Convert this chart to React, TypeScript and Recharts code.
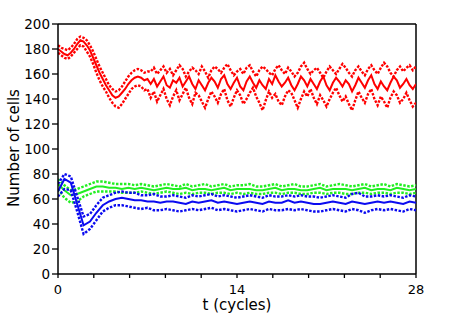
import { LineChart, Line, XAxis, YAxis, ReferenceLine } from 'recharts';

// sampling grids for the series (cycles)
const RED_STEP = 0.25;
const GB_STEP = 0.5;

const redMean = [
  180, 178, 176, 175, 177, 180, 184, 187, 186,
  183, 179, 173, 167, 161, 156, 151, 147, 143, 141,
  142, 145, 148, 152, 155, 157, 158, 157, 155, 156,
  152, 156, 150, 154, 158, 151, 149, 155, 153, 157,
  150, 154, 158, 152, 148, 155, 151, 147, 153, 157,
  154, 149, 156, 159, 152, 148, 153, 157, 150, 147,
  154, 158, 153, 149, 155, 151, 148, 156, 152, 159,
  154, 150, 153, 157, 151, 147, 152, 158, 155, 150,
  156, 152, 148, 154, 158, 151, 147, 153, 157, 154,
  150, 155, 152, 146, 151, 157, 153, 149, 155, 159,
  152, 148, 154, 150, 147, 153, 158, 155, 149, 152,
  156, 151, 148, 152,
];
const redUpper = [
  183, 181, 180, 179, 181, 184, 188, 190, 189,
  187, 183, 178, 172, 166, 161, 156, 151, 148, 146,
  147, 150, 154, 158, 161, 163, 164, 163, 161, 162,
  162, 165, 160, 163, 166, 161, 164, 159, 163, 167,
  164, 158, 162, 165, 163, 160, 166, 162, 157, 163,
  166, 164, 161, 165, 168, 163, 159, 162, 164, 160,
  165, 167, 162, 158, 163, 166, 164, 161, 159, 164,
  167, 163, 160, 165, 162, 158, 161, 166, 169, 164,
  160, 163, 165, 161, 157, 162, 166, 163, 160, 164,
  168, 165, 161, 158, 163, 166, 162, 159, 164, 167,
  163, 160, 165, 169, 166, 161, 158, 163, 166, 162,
  165, 167, 163, 166,
];
const redLower = [
  177, 175, 173, 172, 174, 177, 180, 183, 182,
  178, 174, 168, 161, 155, 150, 146, 141, 137, 134,
  133, 136, 140, 144, 148, 150, 151, 150, 147, 148,
  141, 146, 138, 143, 148, 140, 135, 142, 147, 139,
  144, 149, 141, 136, 145, 143, 138, 133, 140, 146,
  142, 137, 144, 148, 139, 134, 141, 147, 143, 136,
  140, 145, 149, 142, 137, 131, 139, 146, 141, 144,
  138, 135, 142, 147, 145, 139, 133, 140, 146, 142,
  148, 141, 136, 143, 139, 134, 140, 145, 149, 143,
  138, 142, 136, 131, 139, 146, 141, 137, 144, 148,
  140, 135, 142, 138, 133, 141, 146, 143, 137, 140,
  145, 139, 134, 137,
];

const greenMean = [
  72, 67, 63, 64, 66, 68, 70, 70, 69, 69,
  68, 69, 68, 69, 68, 67, 68, 69, 68, 68,
  69, 67, 68, 68, 67, 68, 69, 67, 68, 68,
  68, 67, 67, 68, 69, 67, 68, 68, 67, 67,
  68, 69, 67, 68, 68, 68, 67, 68, 69, 67,
  68, 68, 67, 69, 68, 67, 68,
];
const greenUpper = [
  76, 71, 67, 68, 70, 72, 74, 74, 73, 72,
  72, 72, 71, 72, 71, 70, 71, 72, 71, 70,
  72, 70, 71, 72, 70, 71, 72, 70, 71, 71,
  72, 70, 70, 71, 72, 70, 71, 72, 70, 70,
  71, 72, 70, 71, 72, 71, 70, 71, 72, 70,
  71, 72, 70, 72, 71, 70, 71,
];
const greenLower = [
  68, 61, 57, 58, 62, 64, 66, 66, 66, 66,
  65, 65, 65, 66, 65, 64, 65, 66, 65, 64,
  65, 64, 65, 65, 64, 65, 65, 64, 65, 64,
  65, 64, 64, 65, 65, 64, 65, 65, 64, 64,
  65, 65, 64, 65, 65, 64, 64, 65, 65, 64,
  65, 65, 64, 65, 65, 64, 65,
];

const blueMean = [
  66, 76, 73, 56, 39, 42, 49, 55, 58, 60,
  61, 60, 59, 59, 58, 58, 57, 58, 58, 57,
  56, 58, 57, 58, 59, 57, 58, 57, 56, 57,
  58, 57, 56, 58, 57, 57, 59, 57, 58, 57,
  56, 56, 57, 58, 57, 56, 58, 57, 56, 57,
  58, 57, 58, 57, 56, 58, 57,
];
const blueUpper = [
  72, 80, 78, 62, 46, 48, 55, 61, 63, 65,
  66, 65, 65, 63, 63, 64, 62, 62, 63, 62,
  61, 63, 62, 63, 64, 62, 63, 62, 61, 62,
  63, 62, 61, 63, 62, 62, 63, 62, 63, 62,
  62, 61, 62, 63, 62, 61, 64, 65, 62, 62,
  63, 62, 63, 62, 61, 63, 62,
];
const blueLower = [
  62, 68, 67, 50, 32, 36, 43, 50, 53, 55,
  55, 54, 53, 52, 53, 51, 51, 52, 51, 50,
  51, 52, 51, 52, 53, 51, 52, 51, 50, 51,
  52, 51, 50, 52, 51, 51, 52, 51, 52, 51,
  50, 50, 51, 52, 51, 50, 52, 51, 49, 51,
  52, 51, 52, 51, 50, 52, 51,
];

const X_TICKS = [0, 1.4, 2.8, 4.2, 5.6, 7, 8.4, 9.8, 11.2, 12.6, 14, 15.4, 16.8, 18.2, 19.6, 21, 22.4, 23.8, 25.2, 26.6, 28];
const X_LABELS = [0, 14, 28];
const Y_TICKS = [0, 10, 20, 30, 40, 50, 60, 70, 80, 90, 100, 110, 120, 130, 140, 150, 160, 170, 180, 190, 200];
const Y_LABELS = [0, 20, 40, 60, 80, 100, 120, 140, 160, 180, 200];

const FONT = '"DejaVu Sans", Verdana, sans-serif';

const toPoints = (vals: number[], step: number) => vals.map((v, i) => ({ t: i * step, v }));

const SERIES = [
  { key: 'gU', data: toPoints(greenUpper, GB_STEP), color: '#22ee22', dotted: true },
  { key: 'gL', data: toPoints(greenLower, GB_STEP), color: '#22ee22', dotted: true },
  { key: 'gM', data: toPoints(greenMean, GB_STEP), color: '#22ee22', dotted: false },
  { key: 'bU', data: toPoints(blueUpper, GB_STEP), color: '#0a0af0', dotted: true },
  { key: 'bL', data: toPoints(blueLower, GB_STEP), color: '#0a0af0', dotted: true },
  { key: 'bM', data: toPoints(blueMean, GB_STEP), color: '#0a0af0', dotted: false },
  { key: 'rU', data: toPoints(redUpper, RED_STEP), color: '#ff0000', dotted: true },
  { key: 'rL', data: toPoints(redLower, RED_STEP), color: '#ff0000', dotted: true },
  { key: 'rM', data: toPoints(redMean, RED_STEP), color: '#ff0000', dotted: false },
];

function YTick({ x, y, payload }: any) {
  const major = Y_LABELS.includes(payload.value);
  return (
    <g>
      <line x1={x - (major ? 6 : 3)} x2={x} y1={y} y2={y} stroke="#000" strokeWidth={1.3} />
      {major && (
        <text x={x - 8} y={y + 5} textAnchor="end" fontSize={13.5} fontFamily={FONT} fill="#000">
          {payload.value}
        </text>
      )}
    </g>
  );
}

function XTick({ x, y, payload }: any) {
  const major = X_LABELS.includes(payload.value);
  return (
    <g>
      <line x1={x} x2={x} y1={y} y2={y + 4} stroke="#000" strokeWidth={1.3} />
      {major && (
        <text x={x} y={y + 20} textAnchor="middle" fontSize={13} fontFamily={FONT} fill="#000">
          {payload.value}
        </text>
      )}
    </g>
  );
}

export default function App() {
  return (
    <div style={{ position: 'absolute', left: 0, top: 0, width: 473, height: 318, background: '#fff' }}>
      <LineChart width={473} height={318} margin={{ top: 24, right: 57, bottom: 14, left: 8 }}>
        <XAxis
          type="number" dataKey="t" domain={[0, 28]} ticks={X_TICKS}
          tick={<XTick />} tickLine={false} tickSize={0} tickMargin={0}
          axisLine={{ stroke: '#000', strokeWidth: 1.5 }} height={30}
          allowDataOverflow
        />
        <YAxis
          type="number" domain={[0, 200]} ticks={Y_TICKS}
          tick={<YTick />} tickLine={false} tickSize={0} tickMargin={0}
          axisLine={{ stroke: '#000', strokeWidth: 1.5 }} width={50}
          allowDataOverflow
        />
        <ReferenceLine y={200} stroke="#000" strokeWidth={1.5} />
        <ReferenceLine x={28} stroke="#000" strokeWidth={1.5} />
        {SERIES.map(s => (
          <Line
            key={s.key}
            data={s.data}
            dataKey="v"
            type="linear"
            stroke={s.color}
            strokeWidth={s.dotted ? 2.4 : 2}
            strokeDasharray={s.dotted ? '2.5 1.5' : undefined}
            dot={false}
            activeDot={false}
            isAnimationActive={false}
          />
        ))}
      </LineChart>
      <div style={{ position: 'absolute', left: 237, top: 297, lineHeight: '16px', transform: 'translateX(-50%)', fontFamily: FONT, fontSize: 15, whiteSpace: 'nowrap', color: '#000' }}>
        t (cycles)
      </div>
      <div style={{ position: 'absolute', left: 14, top: 148, lineHeight: '16px', transform: 'translate(-50%, -50%) rotate(-90deg)', fontFamily: FONT, fontSize: 15, whiteSpace: 'nowrap', color: '#000' }}>
        Number of cells
      </div>
    </div>
  );
}
